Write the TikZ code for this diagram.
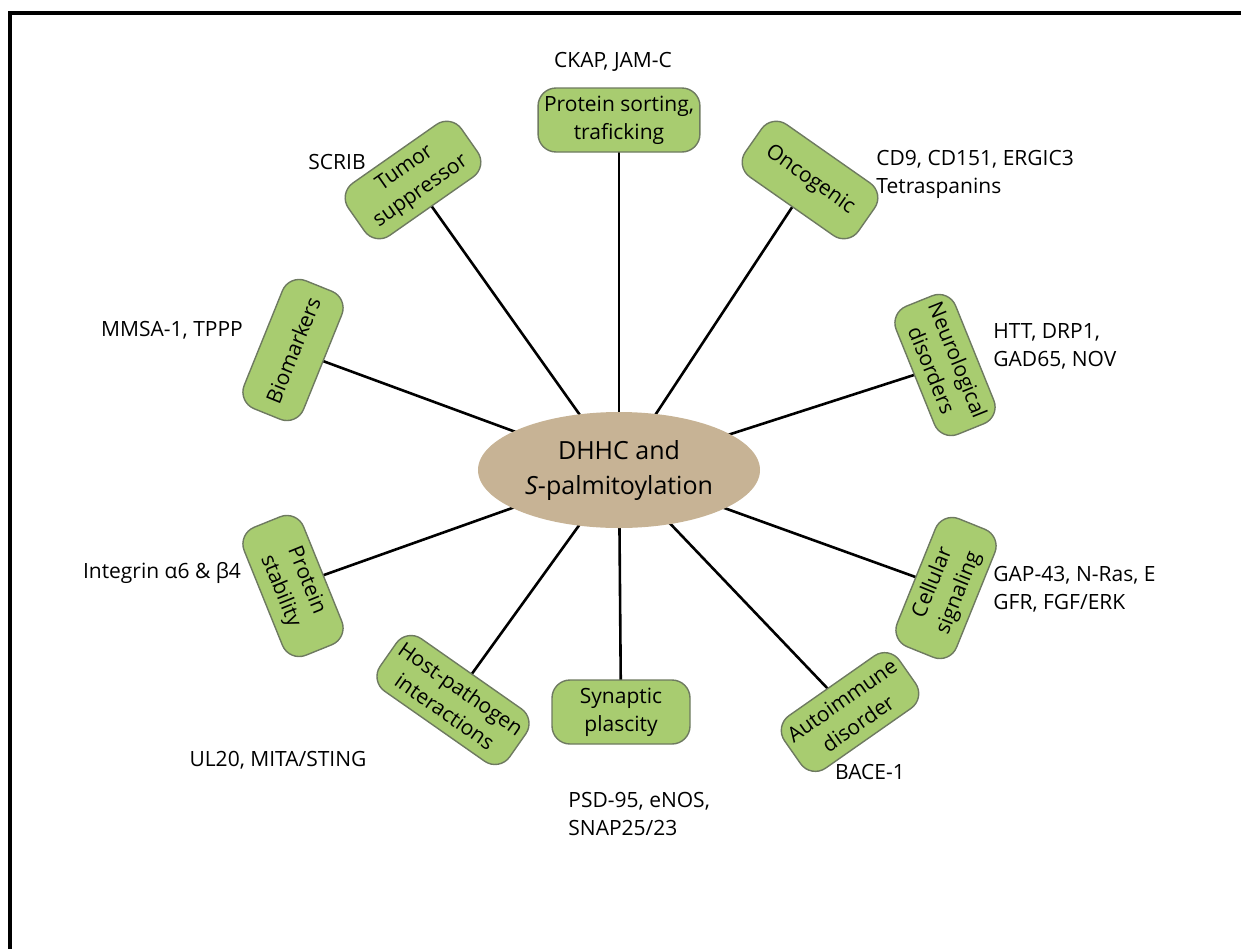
\documentclass[tikz,border=0pt]{standalone}
\usepackage{fontspec}
\setmainfont{Open Sans}
\usetikzlibrary{shapes.geometric,backgrounds}
\definecolor{leaf}{RGB}{168,204,112}
\definecolor{leafedge}{RGB}{110,122,96}
\definecolor{core}{RGB}{199,179,149}

\begin{document}
\begin{tikzpicture}[x=0.5pt,y=-0.5pt,
  topic/.style={draw=leafedge,fill=leaf,line width=0.7pt,rounded corners=9pt,
    minimum width=69pt,minimum height=32pt,inner sep=3pt,align=center,
    font=\fontsize{10.5}{14}\selectfont},
  gene/.style={inner sep=0pt,align=left,font=\fontsize{10.5}{14}\selectfont},
  spoke/.style={line width=1.3pt}]
\useasboundingbox (0,0) rectangle (1241,948);
\draw[line width=1.6pt] (10,970) -- (10,13) -- (1270,13);

% centre
\node[ellipse,fill=core,minimum width=141pt,minimum height=58pt,inner sep=0pt,
  align=center,font=\fontsize{12.5}{17.5}\selectfont] (dhhc) at (619,470)
  {DHHC and\\\textit{S}-palmitoylation};

% topics
\node[topic] (sorting) at (619,120) {Protein sorting,\\traficking};
\node[topic,rotate=35] (tumor) at (413,180) {Tumor\\suppressor};
\node[topic,rotate=-35] (onco) at (810,180) {Oncogenic};
\node[topic,rotate=68] (biomark) at (293,350) {Biomarkers};
\node[topic,rotate=-68] (neuro) at (945,365) {Neurological\\disorders};
\node[topic,rotate=-68] (stab) at (293,586) {Protein\\stability};
\node[topic,rotate=68] (signal) at (946,588) {Cellular\\signaling};
\node[topic,rotate=-35] (hostpath) at (453,700) {Host-pathogen\\interactions};
\node[topic] (synapse) at (621,712) {Synaptic\\plascity};
\node[topic,rotate=35] (autoimm) at (850,712) {Autoimmune\\disorder};

% proteins
\node[gene] (gsorting) at (613,62) {CKAP, JAM-C};
\node[gene] (gtumor) at (337,162) {SCRIB};
\node[gene,anchor=west] (gonco) at (876,174) {CD9, CD151, ERGIC3\\Tetraspanins};
\node[gene] (gbiomark) at (172,330) {MMSA-1, TPPP};
\node[gene,anchor=west] (gneuro) at (993,346) {HTT, DRP1,\\GAD65, NOV};
\node[gene] (gstab) at (162,573) {Integrin α6 \& β4};
\node[gene,anchor=west] (gsignal) at (993,589) {GAP-43, N-Ras, E\\GFR, FGF/ERK};
\node[gene] (ghostpath) at (278,760) {UL20, MITA/STING};
\node[gene] (gautoimm) at (870,772) {BACE-1};
\node[gene,anchor=west] (gsynapse) at (568,814) {PSD-95, eNOS,\\SNAP25/23};

\begin{scope}[on background layer]
\foreach \t in {sorting,tumor,onco,biomark,neuro,stab,signal,hostpath,synapse,autoimm}
  \draw[spoke] (dhhc.center) -- (\t.center);
\end{scope}
\end{tikzpicture}
\end{document}
